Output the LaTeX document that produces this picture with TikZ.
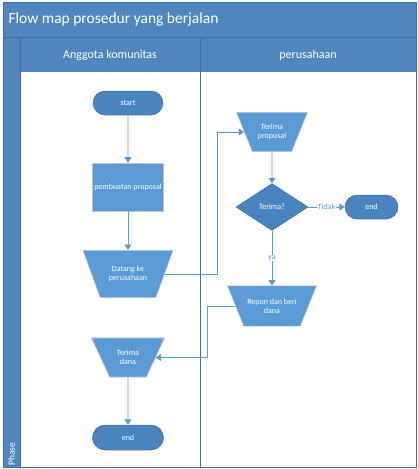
\documentclass[tikz,border=0pt]{standalone}
\usepackage{fontspec}
\setmainfont{Carlito}
\usepackage{tikz}
\usetikzlibrary{arrows.meta, shapes.geometric, shapes.misc}
\definecolor{laneblue}{HTML}{4F86C0}
\definecolor{laneline}{HTML}{3E6FA6}
\definecolor{shapeblue}{HTML}{5B9BD5}
\definecolor{termblue}{HTML}{4A84BF}
\definecolor{edgegray}{HTML}{C4C4C4}

\begin{document}
\begin{tikzpicture}[x=1pt, y=-1pt, >={Triangle[length=5.5pt, width=7pt]},
  nodetext/.style={text=white, font=\fontsize{8}{9.5}\selectfont, align=center, inner sep=1pt},
  terminal/.style={nodetext, rounded rectangle, fill=termblue, draw=laneline, line width=0.5pt},
  procbox/.style={nodetext, rectangle, fill=shapeblue, draw=edgegray, line width=0.6pt},
  manualop/.style={nodetext, trapezium, shape border rotate=180, trapezium stretches body,
    fill=shapeblue, draw=edgegray, line width=0.6pt},
  decision/.style={nodetext, diamond, aspect=1.5, fill=termblue, draw=laneline, line width=0.5pt},
  flowline/.style={->, shapeblue, line width=0.9pt},
  flowlabel/.style={fill=white, text=shapeblue, font=\fontsize{8}{9.5}\selectfont, inner sep=0.5pt}]
\useasboundingbox (0,0) rectangle (418,469);
% —— kerangka swimlane ——
\fill[laneblue] (3,2) rectangle (416,72);
\fill[laneblue] (3,72) rectangle (20,467);
\draw[laneline, line width=0.8pt] (3,2) rectangle (416,467);
\draw[laneline, line width=0.8pt] (3,37) -- (416,37);
\draw[laneline, line width=1pt] (20,37) -- (20,467);
\draw[laneline, line width=1pt] (200,37) -- (200,467);
\node[anchor=west, text=white, font=\fontsize{15.5}{17}\selectfont] (judul) at (5,19.5){Flow map prosedur yang berjalan};
\node[text=white, font=\fontsize{12}{14}\selectfont] (laneA) at (110,55){Anggota komunitas};
\node[text=white, font=\fontsize{12}{14}\selectfont] (laneB) at (308,55){perusahaan};
\node[rotate=90, anchor=west, text=white, font=\fontsize{9.5}{11}\selectfont, inner sep=1pt] (fase) at (11.5,467){Phase};
% —— lajur anggota komunitas ——
\node[terminal, minimum width=72pt, minimum height=24pt] (start) at (128,103){start};
\node[procbox, minimum width=71pt, minimum height=48pt] (buat) at (128,187){pembuatan proposal};
\node[manualop, trapezium angle=70, inner ysep=15.5pt, minimum width=90pt] (datang) at (128,274){Datang ke\\perusahaan};
\node[manualop, trapezium angle=65, inner ysep=12pt, minimum width=73pt] (tdana) at (128,357.5){Terima\\dana};
\node[terminal, minimum width=73pt, minimum height=25pt] (endA) at (128,437.5){end};
% —— lajur perusahaan ——
\node[manualop, trapezium angle=68, inner ysep=11.5pt, minimum width=71pt] (tprop) at (272,132){Terima\\proposal};
\node[decision, minimum width=72pt, minimum height=47pt] (cek) at (272,207){Terima?};
\node[terminal, minimum width=55pt, minimum height=24pt] (endB) at (371.5,207){end};
\node[manualop, trapezium angle=68, inner ysep=12.5pt, minimum width=89pt] (repon) at (272,306){Repon dan beri\\dana};
% —— alur ——
\draw[flowline] (start) -- (buat);
\draw[flowline] (buat) -- (datang);
\draw[flowline] (datang.east) -- ++(53,0) |- (tprop.west);
\draw[flowline] (tprop) -- (cek);
\draw[flowline] (cek) -- node[flowlabel]{Tidak} (endB);
\draw[flowline] (cek) -- node[flowlabel]{ya} (repon);
\draw[flowline] (repon.west) -- ++(-28,0) |- (tdana.east);
\draw[flowline] (tdana) -- (endA);
\end{tikzpicture}
\end{document}
